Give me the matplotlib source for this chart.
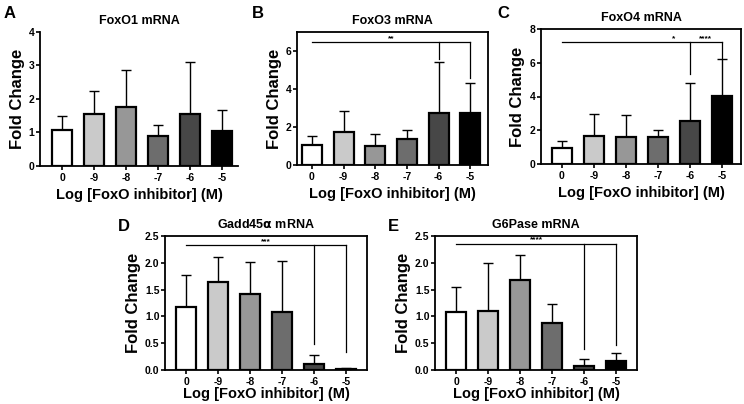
import matplotlib.pyplot as plt
from matplotlib.ticker import FormatStrFormatter

plt.rcParams['font.family'] = ['Liberation Sans', 'DejaVu Sans']
plt.rcParams['font.weight'] = 'bold'

conc = ['0', '-9', '-8', '-7', '-6', '-5']
bar_colors = ['#ffffff', '#cacaca', '#979797', '#6d6d6d', '#474747', '#000000']

foxo1_mean = [1.06, 1.55, 1.75, 0.91, 1.56, 1.04]
foxo1_err = [0.42, 0.68, 1.13, 0.31, 1.54, 0.63]
foxo3_mean = [1.07, 1.76, 1.00, 1.38, 2.76, 2.72]
foxo3_err = [0.48, 1.08, 0.64, 0.46, 2.67, 1.57]
foxo4_mean = [0.95, 1.68, 1.62, 1.58, 2.53, 4.01]
foxo4_err = [0.39, 1.28, 1.26, 0.46, 2.27, 2.21]
gadd_mean = [1.17, 1.65, 1.41, 1.09, 0.11, 0.01]
gadd_err = [0.60, 0.45, 0.60, 0.95, 0.17, 0.03]
g6p_mean = [1.08, 1.11, 1.67, 0.87, 0.07, 0.17]
g6p_err = [0.46, 0.88, 0.48, 0.37, 0.13, 0.14]

# panel: letter, title, means, errs, ylim, yticks, sig line y, drops, star labels
panels = [
    ('A', 'FoxO1 mRNA', foxo1_mean, foxo1_err, 4, [0, 1, 2, 3, 4], None, [], []),
    ('B', 'FoxO3 mRNA', foxo3_mean, foxo3_err, 7, [0, 2, 4, 6], 6.47,
     [(4, 5.6), (5, 4.6)], [(2.5, '**')]),
    ('C', 'FoxO4 mRNA', foxo4_mean, foxo4_err, 8, [0, 2, 4, 6, 8], 7.21,
     [(4, 5.36), (5, 6.3)], [(3.5, '*'), (4.5, '****')]),
    ('D', r'Gadd45$\mathbf{\alpha}$ mRNA', gadd_mean, gadd_err, 2.5,
     [0, 0.5, 1.0, 1.5, 2.0, 2.5], 2.33, [(4, 0.48), (5, 0.33)], [(2.5, '***')]),
    ('E', 'G6Pase mRNA', g6p_mean, g6p_err, 2.5,
     [0, 0.5, 1.0, 1.5, 2.0, 2.5], 2.36, [(4, 0.39), (5, 0.46)], [(2.5, '****')]),
]

W, H = 744, 404
# axes boxes in pixels: left, top, right, bottom, xlim, xlabel pad
boxes = [
    (40, 32, 238, 166, (-0.7, 5.5), 4),
    (297, 32, 488, 165, (-0.47, 5.56), 4),
    (541, 29, 741, 164, (-0.65, 5.6), 4),
    (165, 236, 367, 370, (-0.66, 5.65), 0),
    (435, 236, 637, 370, (-0.66, 5.65), 0),
]
letter_pos = [(4, 14), (252, 14), (497, 14), (118, 226), (388, 226)]

fig = plt.figure(figsize=(W / 100, H / 100), dpi=100)

for p, b, lp in zip(panels, boxes, letter_pos):
    letter, title, mean, err, ymax, yt, sig_y, drops, stars = p
    l, t, r, bt, xl, xpad = b
    ax = fig.add_axes([l / W, 1 - bt / H, (r - l) / W, (bt - t) / H])
    x = list(range(len(conc)))
    ax.bar(x, mean, width=0.63, color=bar_colors, edgecolor='black',
           linewidth=1.6, zorder=3)
    ax.errorbar(x, mean, yerr=[[0] * len(err), err], fmt='none',
                ecolor='black', elinewidth=1.0, capsize=3.5, capthick=1.0,
                zorder=2)
    if sig_y is not None:
        ax.plot([0, 5], [sig_y, sig_y], color='black', lw=0.9)
        for i, yend in drops:
            ax.plot([i, i], [sig_y, yend], color='black', lw=0.9)
        for sx, s in stars:
            ax.text(sx, sig_y, s, ha='center', va='bottom', fontsize=6)
    ax.set_xlim(*xl)
    ax.set_ylim(0, ymax)
    ax.set_xticks(x)
    ax.set_xticklabels(conc, fontsize=7.5)
    ax.set_yticks(yt)
    ax.tick_params(axis='y', labelsize=7.5, width=1.2, length=3, pad=1)
    ax.tick_params(axis='x', width=1.2, length=3, pad=2)
    if ymax == 2.5:
        ax.yaxis.set_major_formatter(FormatStrFormatter('%.1f'))
    for s in ax.spines.values():
        s.set_linewidth(1.3)
    if letter == 'A':
        ax.spines['top'].set_visible(False)
        ax.spines['right'].set_visible(False)
    ax.set_title(title, fontsize=9, fontweight='bold', pad=6)
    ax.set_ylabel('Fold Change', fontsize=12, fontweight='bold', labelpad=3)
    ax.set_xlabel('Log [FoxO inhibitor] (M)', fontsize=10.5, fontweight='bold',
                  labelpad=xpad)
    fig.text(lp[0] / W, 1 - lp[1] / H, letter, fontsize=12, fontweight='bold',
             va='center', ha='left')

fig.savefig('out.png', dpi=100)
